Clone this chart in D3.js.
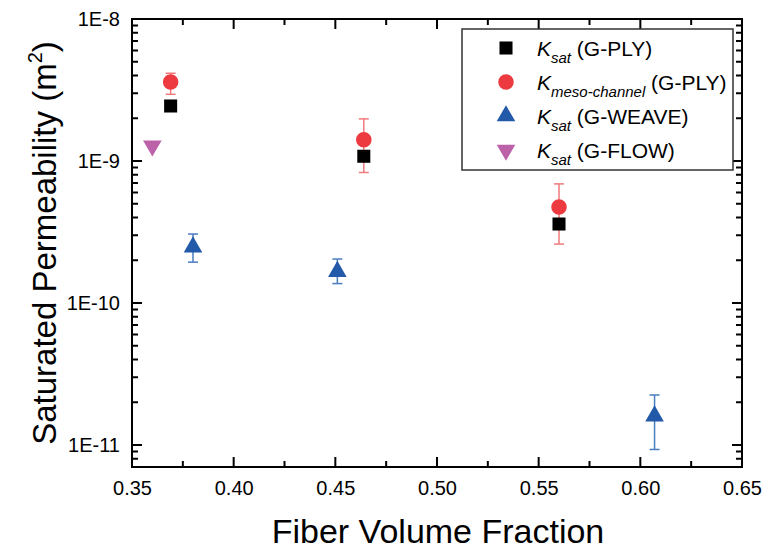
<!DOCTYPE html>
<html>
<head>
<meta charset="utf-8">
<script src="https://cdn.jsdelivr.net/npm/d3@7"></script>
<style>
  html, body { margin: 0; padding: 0; background: #fff; }
  svg { display: block; font-family: "Liberation Sans", Arial, sans-serif; }
</style>
</head>
<body>
<svg id="chart" width="768" height="552"></svg>
<script>
// Saturated permeability vs fiber volume fraction
const plyVf = [0.369, 0.464, 0.560];
const plyKsat = [2.44e-9, 1.08e-9, 3.6e-10];

const mesoVf = [0.369, 0.464, 0.560];
const mesoK = [3.6e-9, 1.41e-9, 4.74e-10];
const mesoLo = [2.95e-9, 8.3e-10, 2.6e-10];
const mesoHi = [4.15e-9, 1.98e-9, 6.9e-10];

const weaveVf = [0.380, 0.451, 0.607];
const weaveK = [2.56e-10, 1.72e-10, 1.65e-11];
const weaveLo = [1.94e-10, 1.37e-10, 9.3e-12];
const weaveHi = [3.06e-10, 2.04e-10, 2.25e-11];

const flowVf = [0.360];
const flowK = [1.28e-9];

const xTicks = [0.35, 0.40, 0.45, 0.50, 0.55, 0.60, 0.65];
const xMinorTicks = [0.375, 0.425, 0.475, 0.525, 0.575, 0.625];
const yTicks = [1e-11, 1e-10, 1e-9, 1e-8];
const yTickLabels = ["1E-11", "1E-10", "1E-9", "1E-8"];

const legendItems = [
  { sub: "sat", tail: " (G-PLY)", shape: "square", color: "#000000" },
  { sub: "meso-channel", tail: " (G-PLY)", shape: "circle", color: "#ec3a40" },
  { sub: "sat", tail: " (G-WEAVE)", shape: "up", color: "#2259a8" },
  { sub: "sat", tail: " (G-FLOW)", shape: "down", color: "#bb62a9" }
];

const svg = d3.select("#chart");
const L = 132, R = 742, T = 19, B = 467;

const x = d3.scaleLinear().domain([0.35, 0.65]).range([L, R]);
const y = d3.scaleLog().domain([7e-12, 1e-8]).range([B, T]);

// minor decade ticks 2..9 inside the domain
const yMinorTicks = [];
for (let e = -12; e <= -9; e++) {
  for (let k = 2; k <= 9; k++) {
    const v = k * Math.pow(10, e);
    if (v >= 7e-12 && v <= 1e-8) yMinorTicks.push(v);
  }
}

// tick labels via d3 axes
function styleLabels(g) {
  g.select(".domain").remove();
  g.selectAll("line").remove();
  g.selectAll("text").attr("fill", "#000").attr("font-size", 20);
}
svg.append("g").attr("transform", `translate(0,${B})`)
  .call(d3.axisBottom(x).tickValues(xTicks).tickFormat(d3.format(".2f")).tickSize(0).tickPadding(14))
  .call(styleLabels);
svg.append("g").attr("transform", `translate(${L},0)`)
  .call(d3.axisLeft(y).tickValues(yTicks).tickFormat((d, i) => yTickLabels[i]).tickSize(0).tickPadding(12))
  .call(styleLabels);

// frame
svg.append("rect").attr("x", L).attr("y", T).attr("width", R - L).attr("height", B - T)
  .attr("fill", "none").attr("stroke", "#000").attr("stroke-width", 2);

// inward tick marks on all four sides, one path
let tickPath = "";
xTicks.forEach(d => { const px = x(d); tickPath += `M${px},${B}V${B - 10}M${px},${T}V${T + 10}`; });
xMinorTicks.forEach(d => { const px = x(d); tickPath += `M${px},${B}V${B - 6}M${px},${T}V${T + 6}`; });
yTicks.forEach(d => { const py = y(d); tickPath += `M${L},${py}H${L + 10}M${R},${py}H${R - 10}`; });
yMinorTicks.forEach(d => { const py = y(d); tickPath += `M${L},${py}H${L + 6}M${R},${py}H${R - 6}`; });
svg.append("path").attr("d", tickPath).attr("fill", "none").attr("stroke", "#000").attr("stroke-width", 2);

// axis titles
svg.append("text").attr("x", 438).attr("y", 543).attr("text-anchor", "middle")
  .attr("font-size", 34).attr("fill", "#000").text("Fiber Volume Fraction");
const yt = svg.append("text").attr("transform", `translate(56,243) rotate(-90)`)
  .attr("text-anchor", "middle").attr("font-size", 33).attr("fill", "#000");
yt.append("tspan").text("Saturated Permeability (m");
yt.append("tspan").attr("font-size", 20).attr("dy", -14).text("2");
yt.append("tspan").attr("dy", 14).text(")");

// symbols
const sym = {
  square: d3.symbol().type(d3.symbolSquare).size(170),
  circle: d3.symbol().type(d3.symbolCircle).size(190),
  up: d3.symbol().type(d3.symbolTriangle).size(150)
};
function marker(g, shape, color) {
  if (shape === "down") {
    g.append("path").attr("d", sym.up()).attr("transform", "rotate(180)").attr("fill", color);
  } else {
    g.append("path").attr("d", sym[shape]()).attr("fill", color);
  }
}

// error bars
function errorBars(vf, lo, hi, color) {
  const g = svg.append("g").attr("stroke", color).attr("stroke-width", 1.5);
  vf.forEach((v, i) => {
    const cx = x(v);
    g.append("line").attr("x1", cx).attr("x2", cx).attr("y1", y(lo[i])).attr("y2", y(hi[i]));
    g.append("line").attr("x1", cx - 5).attr("x2", cx + 5).attr("y1", y(lo[i])).attr("y2", y(lo[i]));
    g.append("line").attr("x1", cx - 5).attr("x2", cx + 5).attr("y1", y(hi[i])).attr("y2", y(hi[i]));
  });
}

errorBars(mesoVf, mesoLo, mesoHi, "#f07a7e");
errorBars(weaveVf, weaveLo, weaveHi, "#4a7cc0");

plyVf.forEach((v, i) => marker(svg.append("g").attr("transform", `translate(${x(v)},${y(plyKsat[i])})`), "square", legendItems[0].color));
mesoVf.forEach((v, i) => marker(svg.append("g").attr("transform", `translate(${x(v)},${y(mesoK[i])})`), "circle", legendItems[1].color));
weaveVf.forEach((v, i) => marker(svg.append("g").attr("transform", `translate(${x(v)},${y(weaveK[i]) + 2})`), "up", legendItems[2].color));
flowVf.forEach((v, i) => marker(svg.append("g").attr("transform", `translate(${x(v)},${y(flowK[i])})`), "down", legendItems[3].color));

// legend
const lg = svg.append("g");
lg.append("rect").attr("x", 462).attr("y", 29).attr("width", 271).attr("height", 141)
  .attr("fill", "#fff").attr("stroke", "#333").attr("stroke-width", 1.5);
legendItems.forEach((it, i) => {
  const cy = 48 + i * 34;
  marker(lg.append("g").attr("transform", `translate(506,${cy})`), it.shape, it.color);
  const t = lg.append("text").attr("x", 537).attr("y", cy + 8).attr("font-size", 21).attr("fill", "#000");
  t.append("tspan").attr("font-style", "italic").text("K");
  t.append("tspan").attr("font-style", "italic").attr("font-size", 15).attr("dy", 7).text(it.sub);
  t.append("tspan").attr("dy", -7).text(it.tail);
});
</script>
</body>
</html>
